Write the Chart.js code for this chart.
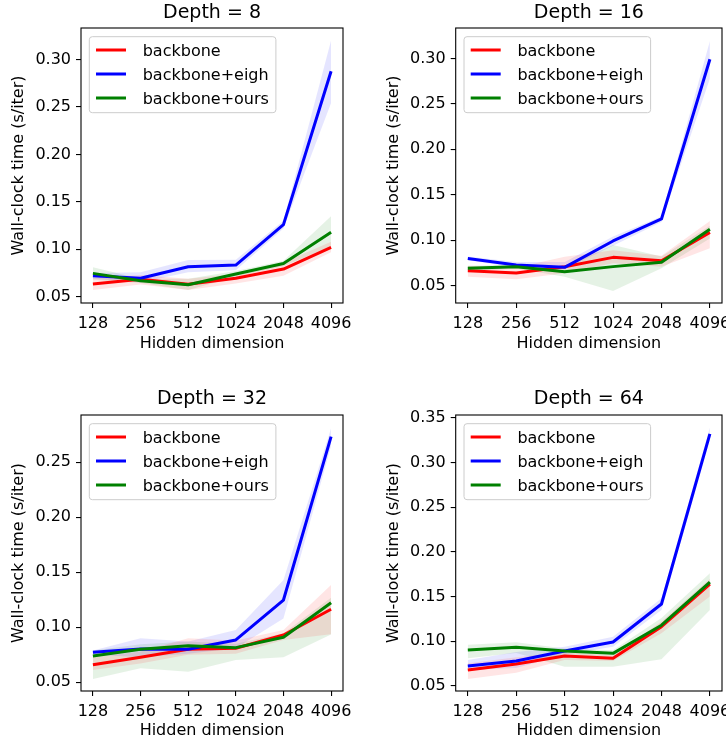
<!DOCTYPE html>
<html><head><meta charset="utf-8">
<script src="https://cdn.jsdelivr.net/npm/chart.js@4.4.1/dist/chart.umd.min.js"></script>
<style>
html,body{margin:0;padding:0;background:#fff;}
#wrap{position:relative;width:726px;height:740px;background:#fff;}
canvas{position:absolute;}
</style></head><body><div id="wrap">
<canvas id="c0" width="363" height="370" style="left:0px;top:0px"></canvas>
<canvas id="c1" width="363" height="370" style="left:363px;top:0px"></canvas>
<canvas id="c2" width="363" height="370" style="left:0px;top:370px"></canvas>
<canvas id="c3" width="363" height="370" style="left:363px;top:370px"></canvas>
</div>
<script>
// ---------- data ----------
const hiddenDims = ['128', '256', '512', '1024', '2048', '4096'];
const depths = [8, 16, 32, 64];
const seriesNames = ['backbone', 'backbone+eigh', 'backbone+ours'];

// Depth = 8
const d8_backbone    = [0.0634, 0.0683, 0.0631, 0.0694, 0.0792, 0.102];
const d8_backbone_lo = [0.057, 0.063, 0.057, 0.064, 0.072, 0.097];
const d8_backbone_hi = [0.070, 0.073, 0.069, 0.074, 0.086, 0.108];
const d8_eigh        = [0.0722, 0.0694, 0.0816, 0.0834, 0.126, 0.2875];
const d8_eigh_lo     = [0.069, 0.065, 0.0757, 0.078, 0.122, 0.254];
const d8_eigh_hi     = [0.075, 0.0757, 0.0886, 0.089, 0.130, 0.320];
const d8_ours        = [0.0746, 0.0669, 0.0627, 0.0739, 0.085, 0.118];
const d8_ours_lo     = [0.068, 0.0645, 0.057, 0.071, 0.082, 0.103];
const d8_ours_hi     = [0.081, 0.069, 0.069, 0.077, 0.088, 0.135];

// Depth = 16
const d16_backbone    = [0.0665, 0.064, 0.0709, 0.0812, 0.0775, 0.1087];
const d16_backbone_lo = [0.060, 0.057, 0.0636, 0.0746, 0.0709, 0.0911];
const d16_backbone_hi = [0.072, 0.070, 0.0819, 0.089, 0.083, 0.1212];
const d16_eigh        = [0.080, 0.0728, 0.0702, 0.0992, 0.1234, 0.299];
const d16_eigh_lo     = [0.078, 0.070, 0.068, 0.094, 0.120, 0.278];
const d16_eigh_hi     = [0.082, 0.076, 0.076, 0.104, 0.126, 0.319];
const d16_ours        = [0.0691, 0.0709, 0.0654, 0.071, 0.0757, 0.112];
const d16_ours_lo     = [0.066, 0.069, 0.060, 0.0442, 0.0691, 0.102];
const d16_ours_hi     = [0.072, 0.073, 0.0709, 0.0948, 0.082, 0.116];

// Depth = 32
const d32_backbone    = [0.066, 0.0727, 0.080, 0.0809, 0.093, 0.1164];
const d32_backbone_lo = [0.0612, 0.067, 0.075, 0.076, 0.0885, 0.0936];
const d32_backbone_hi = [0.0727, 0.078, 0.090, 0.088, 0.0975, 0.1385];
const d32_eigh        = [0.0773, 0.0803, 0.080, 0.0885, 0.1248, 0.2733];
const d32_eigh_lo     = [0.075, 0.0727, 0.076, 0.081, 0.108, 0.265];
const d32_eigh_hi     = [0.079, 0.090, 0.087, 0.0976, 0.143, 0.281];
const d32_ours        = [0.0739, 0.080, 0.0833, 0.0815, 0.0909, 0.1224];
const d32_ours_lo     = [0.053, 0.0627, 0.0597, 0.0703, 0.0727, 0.0936];
const d32_ours_hi     = [0.079, 0.0845, 0.087, 0.085, 0.0945, 0.127];

// Depth = 64
const d64_backbone    = [0.0679, 0.0746, 0.0835, 0.081, 0.1163, 0.164];
const d64_backbone_lo = [0.0578, 0.0649, 0.079, 0.078, 0.109, 0.150];
const d64_backbone_hi = [0.0753, 0.082, 0.088, 0.084, 0.122, 0.170];
const d64_eigh        = [0.0724, 0.078, 0.0891, 0.0992, 0.1417, 0.3318];
const d64_eigh_lo     = [0.068, 0.070, 0.085, 0.094, 0.135, 0.325];
const d64_eigh_hi     = [0.079, 0.088, 0.094, 0.105, 0.148, 0.339];
const d64_ours        = [0.0903, 0.0933, 0.0891, 0.0865, 0.118, 0.166];
const d64_ours_lo     = [0.081, 0.087, 0.0716, 0.0716, 0.080, 0.135];
const d64_ours_hi     = [0.096, 0.099, 0.092, 0.090, 0.126, 0.176];

// y axis ranges and tick labels per panel
const yMin = [0.0434, 0.031, 0.0421, 0.0444];
const yMax = [0.3331, 0.3334, 0.293, 0.353];
const yTicks8  = [0.05, 0.10, 0.15, 0.20, 0.25, 0.30];
const yTicks16 = [0.05, 0.10, 0.15, 0.20, 0.25, 0.30];
const yTicks32 = [0.05, 0.10, 0.15, 0.20, 0.25];
const yTicks64 = [0.05, 0.10, 0.15, 0.20, 0.25, 0.30, 0.35];

// ---------- build ----------
const panels = [
  {mean:[d8_backbone, d8_eigh, d8_ours], lo:[d8_backbone_lo, d8_eigh_lo, d8_ours_lo], hi:[d8_backbone_hi, d8_eigh_hi, d8_ours_hi], ticks:yTicks8},
  {mean:[d16_backbone, d16_eigh, d16_ours], lo:[d16_backbone_lo, d16_eigh_lo, d16_ours_lo], hi:[d16_backbone_hi, d16_eigh_hi, d16_ours_hi], ticks:yTicks16},
  {mean:[d32_backbone, d32_eigh, d32_ours], lo:[d32_backbone_lo, d32_eigh_lo, d32_ours_lo], hi:[d32_backbone_hi, d32_eigh_hi, d32_ours_hi], ticks:yTicks32},
  {mean:[d64_backbone, d64_eigh, d64_ours], lo:[d64_backbone_lo, d64_eigh_lo, d64_ours_lo], hi:[d64_backbone_hi, d64_eigh_hi, d64_ours_hi], ticks:yTicks64}
];
const lineColors = ['#ff0000', '#0000ff', '#008000'];
const bandColors = ['rgba(255,0,0,0.1)', 'rgba(0,0,255,0.1)', 'rgba(0,128,0,0.1)'];

const FS = 16;
const FAMILY = '"DejaVu Sans", "Liberation Sans", sans-serif';
Chart.defaults.font.family = FAMILY;
Chart.defaults.color = '#000';

const pts = arr => arr.map((v, i) => ({x: i, y: v}));

function roundRectPath(ctx, x, y, w, h, r) {
  ctx.beginPath();
  ctx.moveTo(x + r, y);
  ctx.lineTo(x + w - r, y);
  ctx.arcTo(x + w, y, x + w, y + r, r);
  ctx.lineTo(x + w, y + h - r);
  ctx.arcTo(x + w, y + h, x + w - r, y + h, r);
  ctx.lineTo(x + r, y + h);
  ctx.arcTo(x, y + h, x, y + h - r, r);
  ctx.lineTo(x, y + r);
  ctx.arcTo(x, y, x + r, y, r);
  ctx.closePath();
}

const frameLegendPlugin = {
  id: 'frameLegend',
  afterDatasetsDraw(chart) {
    const {ctx, chartArea: ca} = chart;
    ctx.save();
    // axes frame (all four spines)
    ctx.strokeStyle = '#000';
    ctx.lineWidth = 1.1;
    ctx.strokeRect(ca.left, ca.top, ca.right - ca.left, ca.bottom - ca.top);
    // legend box, upper left inside the axes
    const items = chart.data.datasets.filter(d => d.isMain);
    ctx.font = FS + 'px ' + FAMILY;
    let maxW = 0;
    items.forEach(d => { maxW = Math.max(maxW, ctx.measureText(d.label).width); });
    const bx = ca.left + 8.3, by = ca.top + 8.7;
    const bw = 53.4 + maxW + 7, bh = 76;
    roundRectPath(ctx, bx, by, bw, bh, 3);
    ctx.fillStyle = 'rgba(255,255,255,0.8)';
    ctx.fill();
    ctx.strokeStyle = '#cccccc';
    ctx.lineWidth = 1;
    ctx.stroke();
    items.forEach((d, k) => {
      const y = by + 13.3 + 24 * k;
      ctx.strokeStyle = d.borderColor;
      ctx.lineWidth = 3;
      ctx.lineCap = 'butt';
      ctx.beginPath();
      ctx.moveTo(bx + 6.7, y);
      ctx.lineTo(bx + 36.7, y);
      ctx.stroke();
      ctx.fillStyle = '#000';
      ctx.textBaseline = 'alphabetic';
      ctx.textAlign = 'left';
      ctx.fillText(d.label, bx + 53.4, y + 6);
    });
    ctx.restore();
  }
};

function makePanel(idx) {
  const col = idx % 2, row = Math.floor(idx / 2);
  const p = panels[idx];
  const datasets = [];
  for (let k = 0; k < 3; k++) {
    datasets.push({
      label: seriesNames[k], isMain: true, data: pts(p.mean[k]),
      borderColor: lineColors[k], borderWidth: 3, pointRadius: 0, pointHoverRadius: 0,
      fill: false, tension: 0, borderJoinStyle: 'round', borderCapStyle: 'butt', order: 3 - k
    });
  }
  for (let k = 0; k < 3; k++) {
    datasets.push({
      label: seriesNames[k] + ' lower', data: pts(p.lo[k]),
      borderColor: 'rgba(0,0,0,0)', borderWidth: 0, pointRadius: 0, pointHoverRadius: 0,
      fill: false, tension: 0, order: 10
    });
    datasets.push({
      label: seriesNames[k] + ' upper', data: pts(p.hi[k]),
      borderColor: 'rgba(0,0,0,0)', borderWidth: 0, pointRadius: 0, pointHoverRadius: 0,
      fill: '-1', backgroundColor: bandColors[k], tension: 0, order: 10
    });
  }
  const tickGrid = {display: true, drawOnChartArea: false, drawTicks: true, tickLength: 5, color: '#000', lineWidth: 1.1};
  new Chart(document.getElementById('c' + idx), {
    type: 'line',
    data: {datasets},
    plugins: [frameLegendPlugin],
    options: {
      responsive: false, animation: false, devicePixelRatio: 1,
      events: [],
      layout: {padding: {left: col ? 11.7 : 0, right: col ? 4 : 20, top: 0, bottom: 0}},
      plugins: {
        legend: {display: false},
        tooltip: {enabled: false},
        filler: {drawTime: 'beforeDatasetsDraw'},
        title: {
          display: true, text: 'Depth = ' + depths[idx], fullSize: false, color: '#000',
          font: {family: FAMILY, size: 19, weight: 'normal', lineHeight: 1.2},
          padding: row ? {top: 18.0, bottom: 4.2} : {top: 1.3, bottom: 3.9}
        }
      },
      scales: {
        x: {
          type: 'linear', min: -0.25, max: 5.25,
          afterBuildTicks: s => { s.ticks = hiddenDims.map((_, i) => ({value: i})); },
          afterFit: s => { s.height = row ? 49 : 67; s.paddingLeft = 0; s.paddingRight = 0; },
          ticks: {callback: v => hiddenDims[v], color: '#000', font: {size: FS}, padding: 6.5, maxRotation: 0, minRotation: 0, autoSkip: false},
          grid: tickGrid,
          border: {display: false},
          title: {display: true, text: 'Hidden dimension', color: '#000', font: {size: FS}, padding: {top: 0, bottom: row ? 0 : 16.6}}
        },
        y: {
          type: 'linear', min: yMin[idx], max: yMax[idx],
          afterBuildTicks: s => { s.ticks = p.ticks.map(v => ({value: v})); },
          afterFit: s => { s.width = 81; s.paddingTop = 0; s.paddingBottom = 0; },
          ticks: {callback: v => Number(v).toFixed(2), color: '#000', font: {size: FS}, padding: 5},
          grid: tickGrid,
          border: {display: false},
          title: {display: true, text: 'Wall-clock time (s/iter)', color: '#000', font: {size: FS}, padding: {top: 9.3, bottom: 0}}
        }
      }
    }
  });
}
for (let i = 0; i < 4; i++) makePanel(i);
</script></body></html>
